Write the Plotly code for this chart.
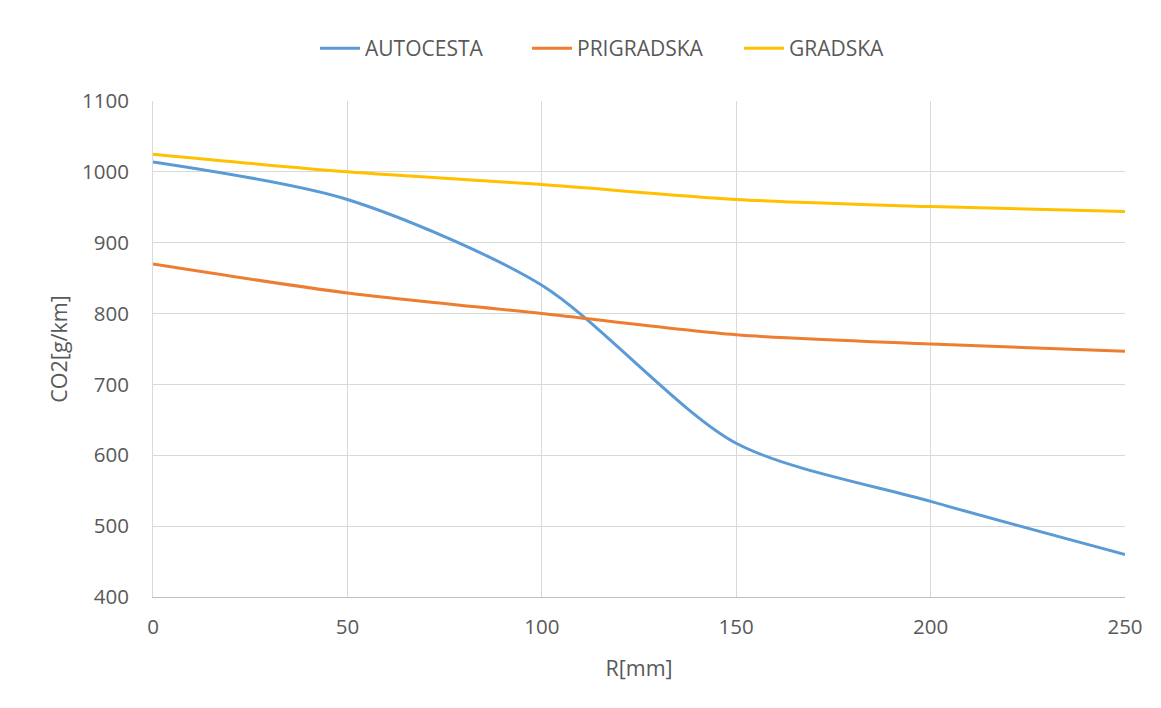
import plotly.graph_objects as go

r_mm = [0, 50, 100, 150, 200, 250]
autocesta = [1014, 961, 840, 617, 535, 460]
prigradska = [870, 829, 800, 770, 757, 747]
gradska = [1025, 1000, 982, 961, 951, 944]

series = [
    ("AUTOCESTA", autocesta, "#5B9BD5"),
    ("PRIGRADSKA", prigradska, "#ED7D31"),
    ("GRADSKA", gradska, "#FFC000"),
]

FONT = "Open Sans, Liberation Sans, sans-serif"
TXT = "#595959"

fig = go.Figure()
for name, vals, col in series:
    fig.add_trace(go.Scatter(
        x=r_mm, y=vals, name=name, mode="lines",
        line=dict(color=col, width=3, shape="spline", smoothing=0.8),
    ))

# page renders with an 8px offset; compensate in margins
OFF = 8
W, H = 1161, 708
L, T = 153 - OFF, 101 - OFF
R = W + OFF - 1125
B = H + OFF - 597
pw, ph = W - L - R, H - T - B

fig.update_layout(
    width=W, height=H,
    margin=dict(l=L, r=R, t=T, b=B),
    paper_bgcolor="white", plot_bgcolor="white",
    font=dict(family=FONT, color=TXT, size=20),
    legend=dict(orientation="h", x=(315 - 153) / pw, xanchor="left",
                y=1 + (T - 20) / ph, yanchor="top",
                font=dict(size=21, color=TXT), itemwidth=40,
                entrywidth=157, entrywidthmode="pixels",
                traceorder="normal"),
    showlegend=True,
)
fig.update_xaxes(
    range=[0, 250], tickmode="array", tickvals=[0, 50, 100, 150, 200, 250],
    showgrid=True, gridcolor="#D9D9D9", gridwidth=1,
    showline=True, linecolor="#BFBFBF", linewidth=1,
    zeroline=False, ticks="", ticklabelstandoff=11,
    tickfont=dict(size=20.5, color=TXT),
    title=dict(text="R[mm]", font=dict(size=21.5, color=TXT), standoff=22),
)
fig.update_yaxes(
    range=[400, 1100], tickmode="array",
    tickvals=[400, 500, 600, 700, 800, 900, 1000, 1100],
    showgrid=True, gridcolor="#D9D9D9", gridwidth=1,
    showline=True, linecolor="#D9D9D9", linewidth=1,
    zeroline=False, ticks="", ticklabelstandoff=19,
    tickfont=dict(size=20.5, color=TXT),
    title=dict(text="CO2[g/km]", font=dict(size=21.5, color=TXT), standoff=8),
)

fig.write_html("out.html")
